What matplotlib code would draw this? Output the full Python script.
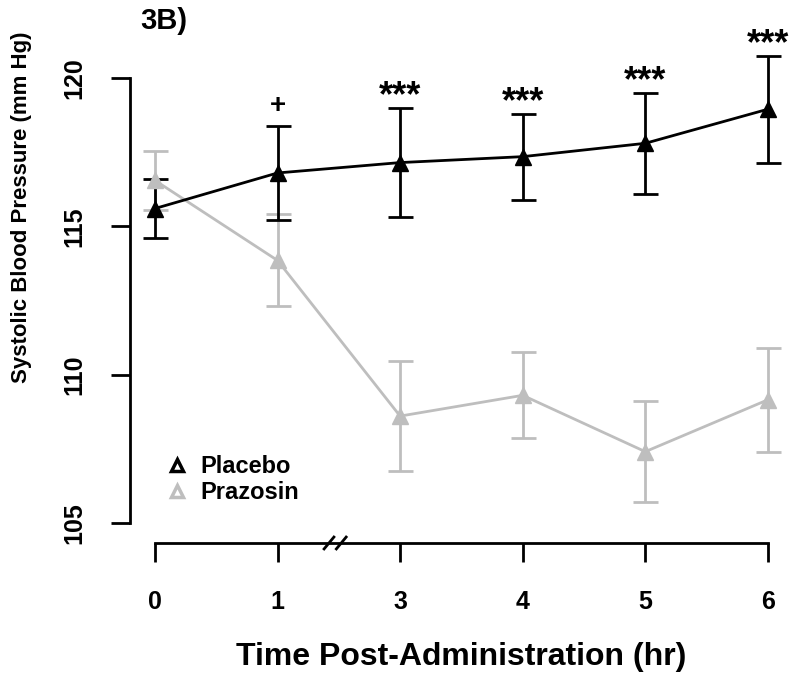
import matplotlib
matplotlib.use("Agg")
import matplotlib.pyplot as plt
from matplotlib.lines import Line2D
from matplotlib import font_manager

plt.rcParams['font.family'] = ['Liberation Sans', 'DejaVu Sans']
plt.rcParams['font.weight'] = 'bold'

# data
time_labels = ['0', '1', '3', '4', '5', '6']
placebo_mean = [115.6, 116.8, 117.15, 117.35, 117.8, 118.95]
placebo_err = [1.0, 1.6, 1.85, 1.45, 1.7, 1.8]
prazosin_mean = [116.55, 113.85, 108.6, 109.3, 107.4, 109.15]
prazosin_err = [1.0, 1.55, 1.85, 1.45, 1.7, 1.75]
signif = ['', '+', '***', '***', '***', '***']

grey = '#BEBEBE'
xpos = list(range(len(time_labels)))

# narrow face for the y label if it is there
names = {f.name for f in font_manager.fontManager.ttflist}
if 'Liberation Sans Narrow' in names:
    ylab_family = ['Liberation Sans Narrow', 'Liberation Sans']
    ylab_size = 20
else:
    ylab_family = ['Liberation Sans']
    ylab_size = 16

fig = plt.figure(figsize=(8, 6.83), dpi=100)
ax = fig.add_axes([0.163, 0.205, 0.8275, 0.7458])

# prazosin first so placebo sits on top
ax.errorbar(xpos, prazosin_mean, yerr=prazosin_err, color=grey, lw=2, marker='^',
            markersize=12, capsize=9, capthick=2, elinewidth=2, clip_on=False)
ax.errorbar(xpos, placebo_mean, yerr=placebo_err, color='black', lw=2, marker='^',
            markersize=12, capsize=9, capthick=2, elinewidth=2, clip_on=False)

# significance markers above placebo error bars
for x, m, e, s in zip(xpos, placebo_mean, placebo_err, signif):
    if s == '+':
        ax.annotate(s, (x, m + e), xytext=(0, 9), textcoords='offset points',
                    ha='center', va='baseline', fontsize=20, fontweight='bold',
                    annotation_clip=False)
    elif s:
        ax.annotate(s, (x, m + e), xytext=(0, 1), textcoords='offset points',
                    ha='center', va='baseline', fontsize=26, fontweight='bold',
                    annotation_clip=False)

ax.set_xlim(-0.2, 5.2)
ax.set_ylim(104.32, 121.5)

for side in ['top', 'right']:
    ax.spines[side].set_visible(False)
ax.spines['left'].set_bounds(105, 120)
ax.spines['bottom'].set_bounds(0, 5)
ax.spines['left'].set_linewidth(2)
ax.spines['bottom'].set_linewidth(2)

ax.set_yticks([105, 110, 115, 120])
ax.set_yticklabels(['105', '110', '115', '120'], rotation=90, va='center')
ax.set_xticks(xpos)
ax.set_xticklabels(time_labels)
ax.tick_params(axis='both', length=14, width=2, labelsize=18, pad=20)
ax.tick_params(axis='y', pad=18)

# axis break on the x axis between 1 and 3
for dx in [-0.05, 0.05]:
    ax.plot([1.47 + dx - 0.04, 1.47 + dx + 0.04], [104.12, 104.52], color='black',
            lw=2, clip_on=False)

ax.set_xlabel('Time Post-Administration (hr)', fontsize=23, fontweight='bold', labelpad=20)
ax.set_ylabel('Systolic Blood Pressure (mm Hg)', fontsize=ylab_size, fontweight='bold',
              family=ylab_family)
ax.yaxis.set_label_coords(-0.148, 0.66)

handles = [Line2D([], [], color='black', marker='^', linestyle='none', markersize=9,
                  markerfacecolor='none', markeredgewidth=2.5),
           Line2D([], [], color=grey, marker='^', linestyle='none', markersize=9,
                  markerfacecolor='none', markeredgewidth=2.5)]
ax.legend(handles, ['Placebo', 'Prazosin'], loc='lower left', bbox_to_anchor=(0.02, 0.035),
          frameon=False, handlelength=1, handletextpad=0.5, labelspacing=0.12,
          prop={'weight': 'bold', 'size': 17})

fig.text(0.175, 0.99, '3B)', fontsize=21, fontweight='bold', va='top', ha='left')

fig.savefig('out.png', dpi=100)
